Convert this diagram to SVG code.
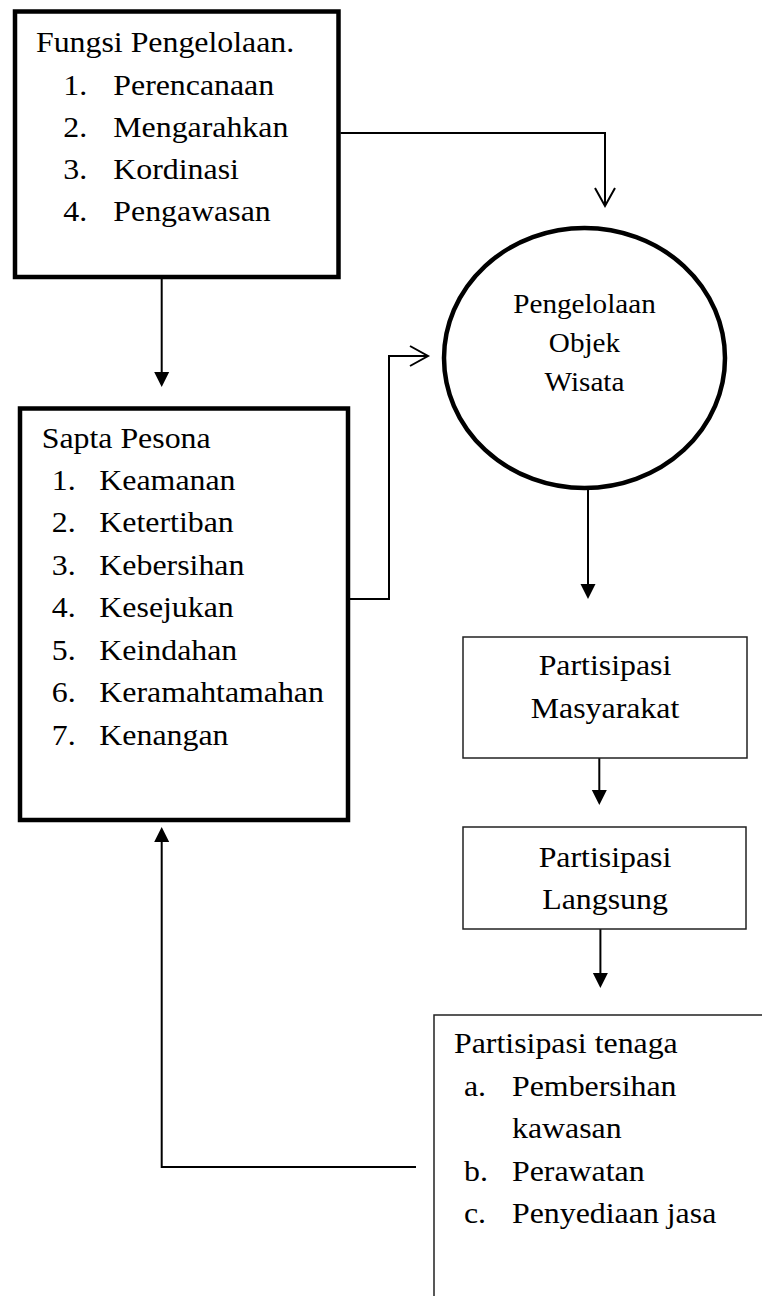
<svg xmlns="http://www.w3.org/2000/svg" width="762" height="1296" viewBox="0 0 762 1296">
<style>
.bg{fill:#fff}
.thick{fill:#fff;stroke:#000;stroke-width:4.5}
.thin{fill:#fff;stroke:#222;stroke-width:1.5}
.conn{fill:none;stroke:#000;stroke-width:2}
.t{font-family:"Liberation Serif","Times New Roman",serif;font-size:29.5px;fill:#000}
.tc{font-family:"Liberation Serif","Times New Roman",serif;font-size:27px;fill:#000;text-anchor:middle}
.m{text-anchor:middle}
</style>
<defs>
<marker id="solid" markerUnits="userSpaceOnUse" markerWidth="16" markerHeight="16" refX="11" refY="7.5" orient="auto" overflow="visible">
<path d="M0,0 L15,7.5 L0,15 Z" fill="#000"/>
</marker>
<marker id="open" markerUnits="userSpaceOnUse" markerWidth="20" markerHeight="22" refX="18" refY="10" orient="auto" overflow="visible">
<path d="M0,0 L18,10 L0,20" fill="none" stroke="#000" stroke-width="2"/>
</marker>
</defs>
<rect class="bg" x="0" y="0" width="762" height="1296"/>

<g id="connectors">
<path class="conn" d="M340.5 133 H605 V206" marker-end="url(#open)"/>
<path class="conn" d="M161.7 279 V383" marker-end="url(#solid)"/>
<path class="conn" d="M350 599 H389 V356 H428" marker-end="url(#open)"/>
<path class="conn" d="M588 490 V595" marker-end="url(#solid)"/>
<path class="conn" d="M599.3 758 V801" marker-end="url(#solid)"/>
<path class="conn" d="M600.4 929 V984" marker-end="url(#solid)"/>
<path class="conn" d="M416 1167 H161.7 V831" marker-end="url(#solid)"/>
</g>

<g id="fungsi-pengelolaan">
<rect class="thick" x="15" y="11.5" width="323.5" height="265.5"/>
<g transform="scale(1.08 1)">
<text class="t" x="33.3" y="52">Fungsi Pengelolaan.</text>
<text class="t" x="58.6" y="95">1.</text><text class="t" x="104.9" y="95">Perencanaan</text>
<text class="t" x="58.6" y="137">2.</text><text class="t" x="104.9" y="137">Mengarahkan</text>
<text class="t" x="58.6" y="179">3.</text><text class="t" x="104.9" y="179">Kordinasi</text>
<text class="t" x="58.6" y="221.5">4.</text><text class="t" x="104.9" y="221.5">Pengawasan</text>
</g>
</g>

<g id="pengelolaan-objek-wisata">
<ellipse class="thick" cx="584.5" cy="358" rx="140.5" ry="130"/>
<g transform="scale(1.08 1)">
<text class="tc" x="541.2" y="313.5">Pengelolaan</text>
<text class="tc" x="541.2" y="352.5">Objek</text>
<text class="tc" x="541.2" y="391.5">Wisata</text>
</g>
</g>

<g id="sapta-pesona">
<rect class="thick" x="20" y="408.5" width="328" height="411.5"/>
<g transform="scale(1.08 1)">
<text class="t" x="38.6" y="448">Sapta Pesona</text>
<text class="t" x="47.9" y="490">1.</text><text class="t" x="92" y="490">Keamanan</text>
<text class="t" x="47.9" y="532.5">2.</text><text class="t" x="92" y="532.5">Ketertiban</text>
<text class="t" x="47.9" y="575">3.</text><text class="t" x="92" y="575">Kebersihan</text>
<text class="t" x="47.9" y="617">4.</text><text class="t" x="92" y="617">Kesejukan</text>
<text class="t" x="47.9" y="660">5.</text><text class="t" x="92" y="660">Keindahan</text>
<text class="t" x="47.9" y="702.5">6.</text><text class="t" x="92" y="702.5">Keramahtamahan</text>
<text class="t" x="47.9" y="745">7.</text><text class="t" x="92" y="745">Kenangan</text>
</g>
</g>

<g id="partisipasi-masyarakat">
<rect class="thin" x="463" y="637" width="284" height="121"/>
<g transform="scale(1.08 1)">
<text class="t m" x="560.2" y="675">Partisipasi</text>
<text class="t m" x="560.2" y="718">Masyarakat</text>
</g>
</g>

<g id="partisipasi-langsung">
<rect class="thin" x="463" y="827" width="283" height="102"/>
<g transform="scale(1.08 1)">
<text class="t m" x="560.2" y="867">Partisipasi</text>
<text class="t m" x="560.2" y="909">Langsung</text>
</g>
</g>

<g id="partisipasi-tenaga">
<path class="thin" d="M762 1015 H434 V1296"/>
<g transform="scale(1.08 1)">
<text class="t" x="420.4" y="1053">Partisipasi tenaga</text>
<text class="t" x="429.6" y="1096">a.</text><text class="t" x="474.1" y="1096">Pembersihan</text>
<text class="t" x="474.1" y="1138">kawasan</text>
<text class="t" x="429.6" y="1181">b.</text><text class="t" x="474.1" y="1181">Perawatan</text>
<text class="t" x="429.6" y="1223">c.</text><text class="t" x="474.1" y="1223">Penyediaan jasa</text>
</g>
</g>
</svg>
